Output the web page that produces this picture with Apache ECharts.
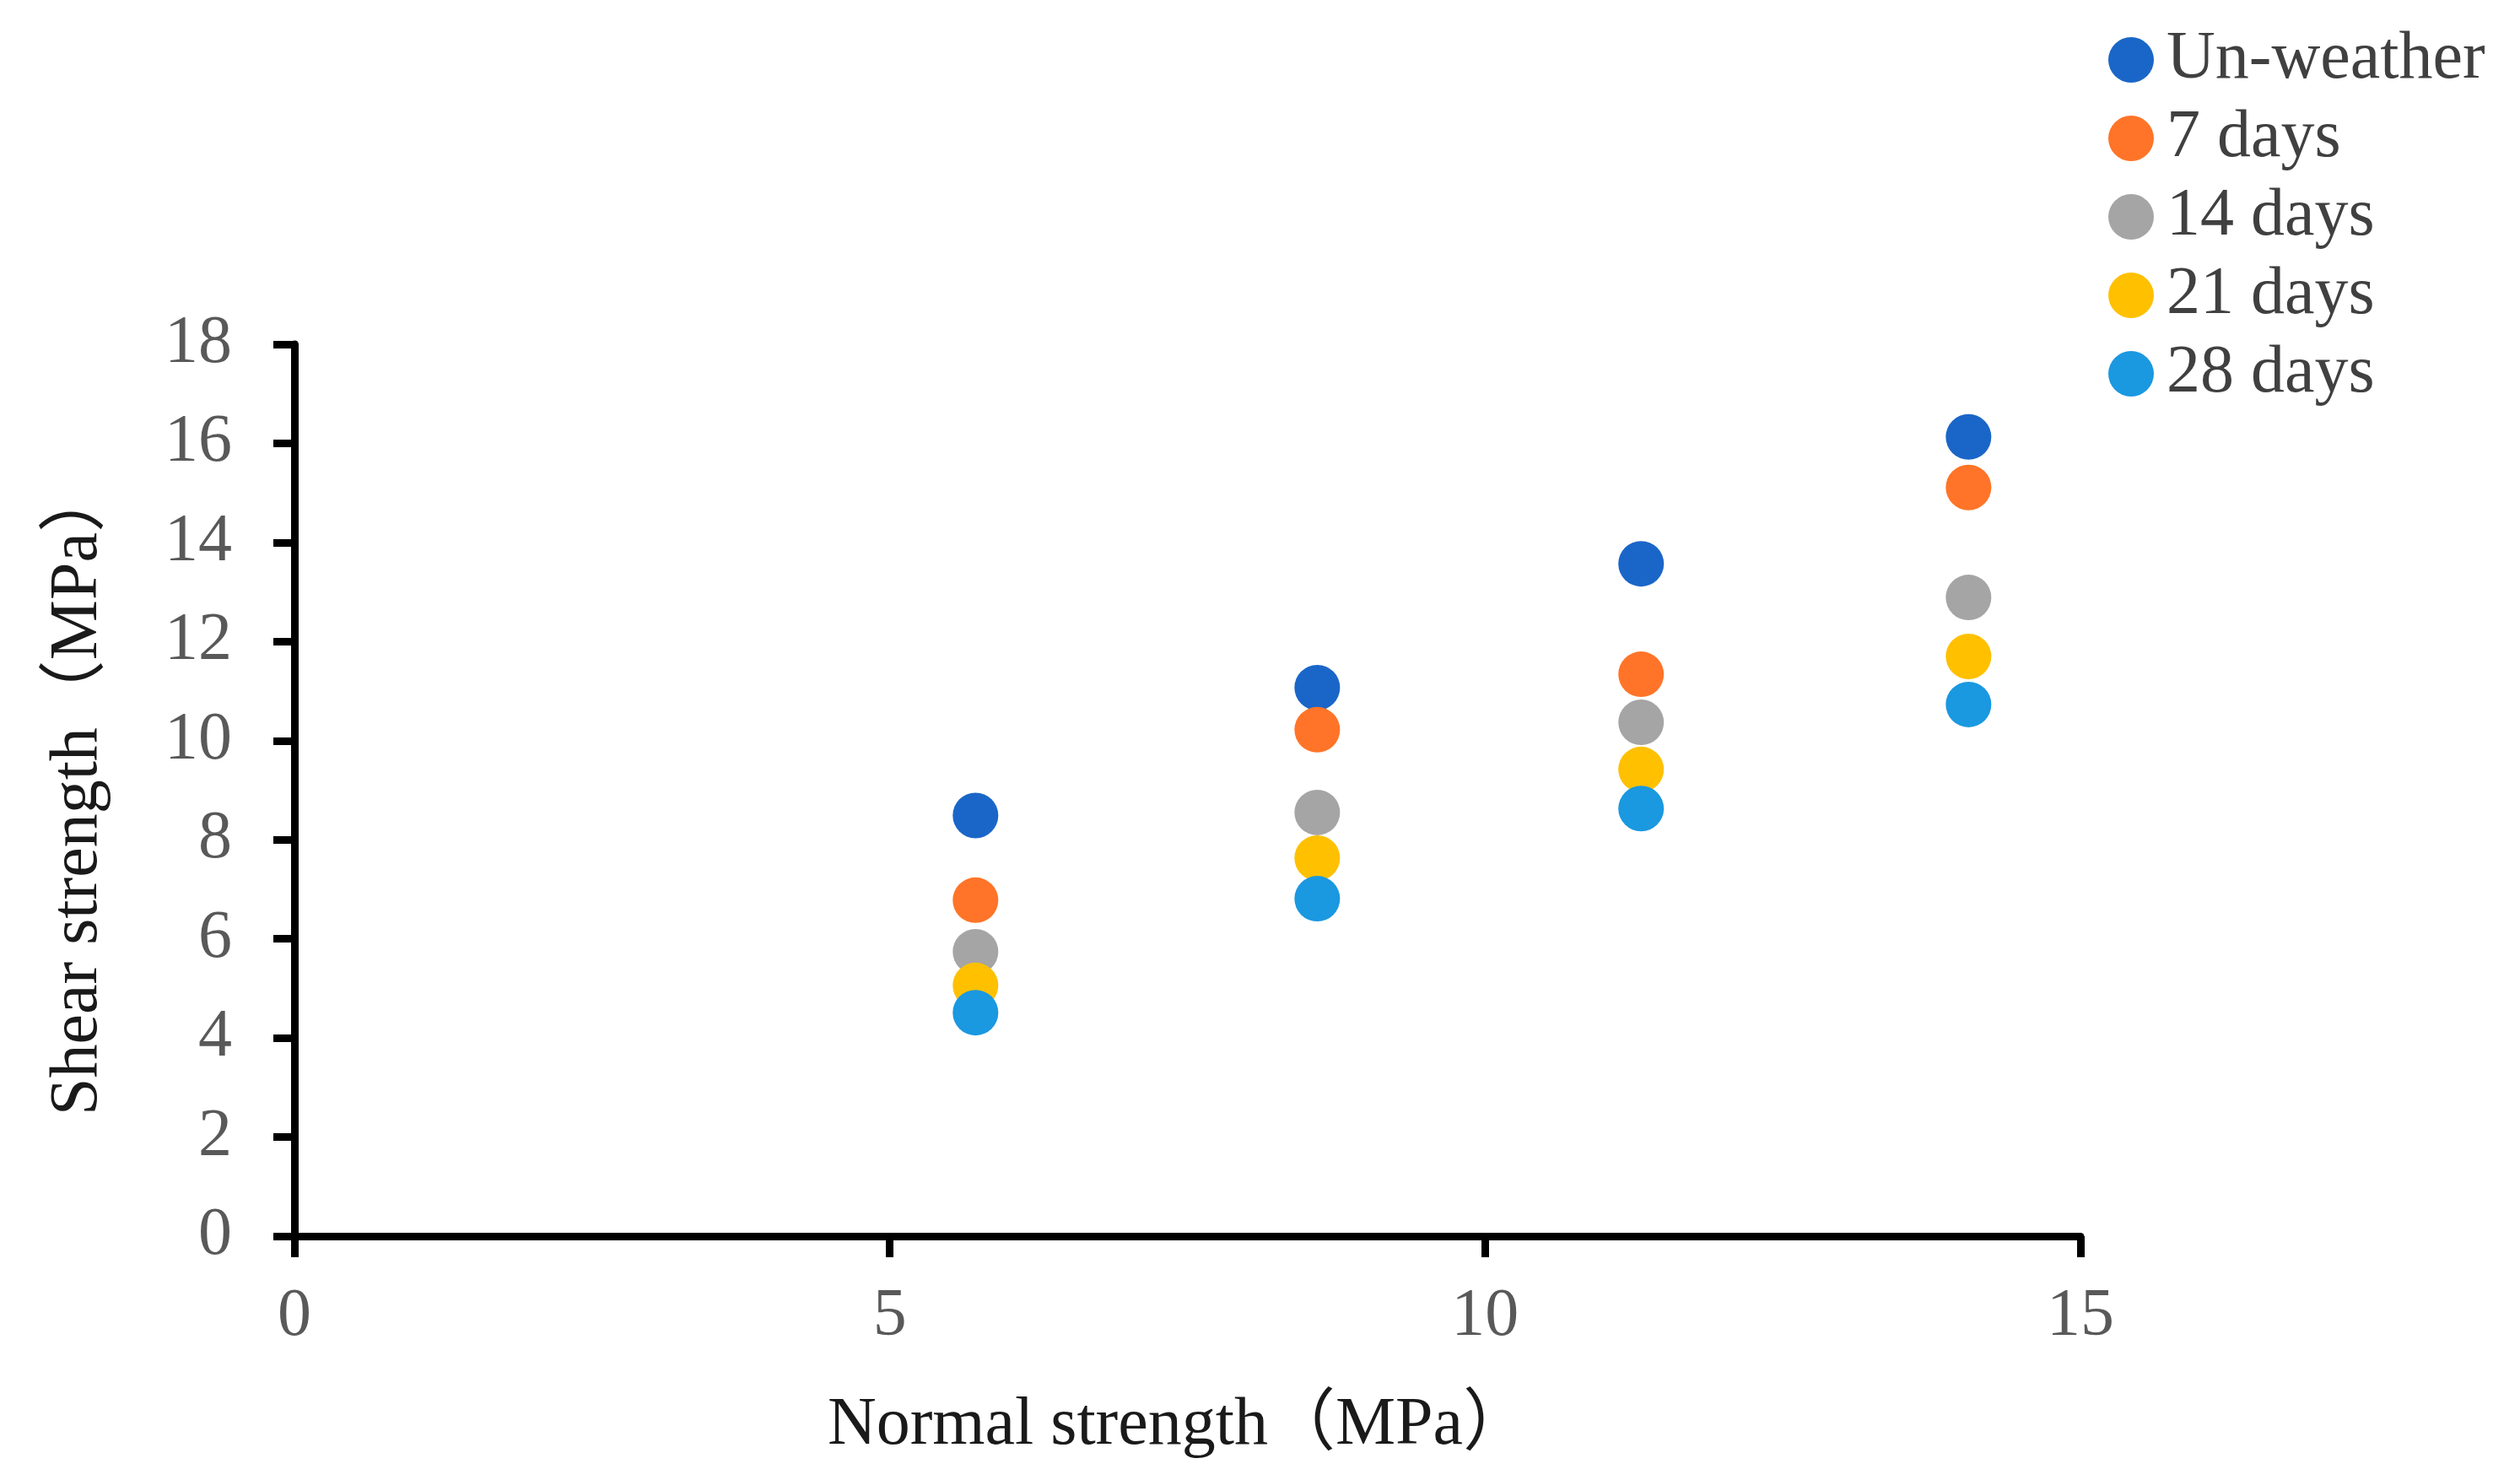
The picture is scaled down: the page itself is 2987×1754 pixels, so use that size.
<!DOCTYPE html>
<html>
<head>
<meta charset="utf-8">
<script src="https://cdn.jsdelivr.net/npm/echarts@6/dist/echarts.min.js"></script>
<style>
html,body{margin:0;padding:0;background:#fff;}
#chart{width:2987px;height:1754px;}
</style>
</head>
<body>
<div id="chart"></div>
<script>
// Data
const normalStrength = [5.72, 8.59, 11.31, 14.06];
const seriesNames = ['Un-weather', '7 days', '14 days', '21 days', '28 days'];
const unWeather = [8.49, 11.07, 13.57, 16.13];
const days7 = [6.78, 10.22, 11.34, 15.11];
const days14 = [5.74, 8.55, 10.37, 12.89];
const days21 = [5.06, 7.63, 9.42, 11.70];
const days28 = [4.51, 6.81, 8.63, 10.73];
const xTicks = [0, 5, 10, 15];
const yTicks = [0, 2, 4, 6, 8, 10, 12, 14, 16, 18];

const seriesValues = [unWeather, days7, days14, days21, days28];
const colors = ['#1A66C8', '#FF7428', '#A5A5A5', '#FFC000', '#1A98E0'];
const FONT = '"Liberation Serif", "Times New Roman", "Noto Sans CJK SC", serif';

const chart = echarts.init(document.getElementById('chart'), null, {renderer: 'canvas'});
chart.setOption({
  animation: false,
  backgroundColor: '#ffffff',
  color: colors,
  grid: {left: 349, right: 521, top: 408, bottom: 289, containLabel: false},
  legend: {
    orient: 'vertical',
    left: 2494,
    top: 26,
    itemWidth: 54,
    itemHeight: 54,
    itemGap: 13,
    icon: 'circle',
    data: seriesNames,
    textStyle: {fontFamily: FONT, fontSize: 80, color: '#404040', padding: [0, 0, 0, 10]}
  },
  xAxis: {
    type: 'value',
    min: xTicks[0],
    max: xTicks[xTicks.length - 1],
    interval: 5,
    name: 'Normal strength（MPa）',
    nameLocation: 'middle',
    nameGap: 185,
    nameTextStyle: {fontFamily: FONT, fontSize: 80, lineHeight: 80, color: '#1a1a1a', padding: [0, 20, 0, 0]},
    axisLine: {show: true, onZero: false, lineStyle: {color: '#000', width: 9}},
    axisTick: {show: true, inside: false, length: 25, lineStyle: {color: '#000', width: 9}},
    axisLabel: {fontFamily: FONT, fontSize: 80, lineHeight: 80, color: '#595959', margin: 56},
    splitLine: {show: false}
  },
  yAxis: {
    type: 'value',
    min: yTicks[0],
    max: yTicks[yTicks.length - 1],
    interval: 2,
    name: 'Shear strength（MPa）',
    nameLocation: 'middle',
    nameGap: 216,
    nameTextStyle: {fontFamily: FONT, fontSize: 80, lineHeight: 80, color: '#1a1a1a'},
    axisLine: {show: true, onZero: false, lineStyle: {color: '#000', width: 9}},
    axisTick: {show: true, inside: false, length: 25, lineStyle: {color: '#000', width: 9}},
    axisLabel: {fontFamily: FONT, fontSize: 80, lineHeight: 80, color: '#595959', margin: 74},
    splitLine: {show: false}
  },
  series: seriesNames.map((name, i) => ({
    name: name,
    type: 'scatter',
    symbol: 'circle',
    symbolSize: 54,
    itemStyle: {color: colors[i], opacity: 1},
    data: normalStrength.map((x, j) => [x, seriesValues[i][j]])
  }))
});
</script>
</body>
</html>
